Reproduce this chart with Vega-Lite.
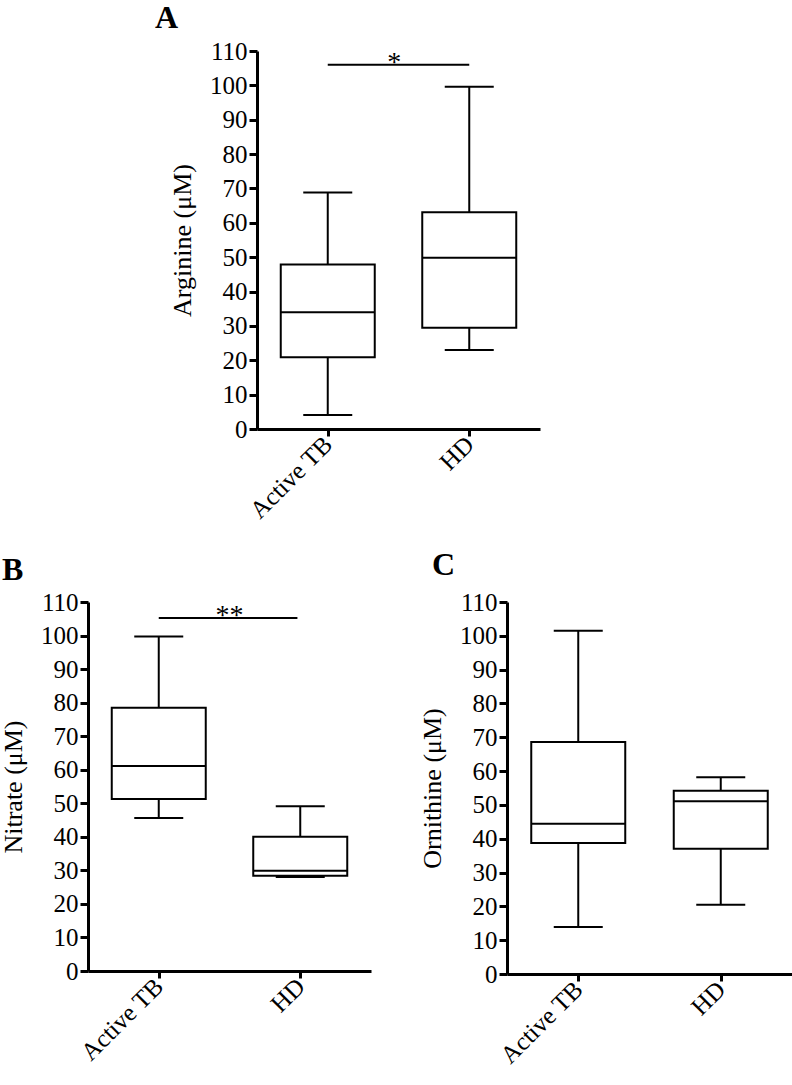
{
  "$schema": "https://vega.github.io/schema/vega-lite/v6.json",
  "padding": {"left": 0, "top": 2, "right": 0, "bottom": 0},
  "background": "white",
  "datasets": {
    "boxes": [
      {"panel": "A", "group": "Active TB", "min": 4.1, "q1": 20.9, "median": 34.0, "q3": 47.9, "max": 68.8},
      {"panel": "A", "group": "HD", "min": 23.0, "q1": 29.5, "median": 49.8, "q3": 63.1, "max": 99.6},
      {"panel": "B", "group": "Active TB", "min": 45.6, "q1": 51.3, "median": 61.1, "q3": 78.5, "max": 99.7},
      {"panel": "B", "group": "HD", "min": 28.0, "q1": 28.4, "median": 29.9, "q3": 40.0, "max": 49.1},
      {"panel": "C", "group": "Active TB", "min": 13.9, "q1": 38.7, "median": 44.4, "q3": 68.6, "max": 101.5},
      {"panel": "C", "group": "HD", "min": 20.5, "q1": 37.0, "median": 51.1, "q3": 54.2, "max": 58.2}
    ],
    "sig": [
      {"panel": "A", "from": 1, "to": 2, "mid": 1.47, "y": 106, "label": "*"},
      {"panel": "B", "from": 1, "to": 1.98, "mid": 1.5, "y": 105.2, "label": "**"}
    ]
  },
  "vconcat": [
    {
      "hconcat": [
        {
          "width": 67, "height": 10,
          "data": {"values": [{}]},
          "mark": {"type": "point", "opacity": 0},
          "encoding": {}
        },
        {
          "width": 283, "height": 378,
          "title": {"text": "A", "dx": -102, "offset": -21, "baseline": "alphabetic"},
          "layer": [
            {
              "data": {"name": "boxes"},
              "transform": [{"filter": "datum.panel === 'A'"}],
              "encoding": {
                "x": {"field": "group", "type": "nominal", "scale": {"type": "point", "padding": 0.5, "domain": ["Active TB", "HD"]}, "axis": {"title": null}},
                "y": {"field": "min", "type": "quantitative", "scale": {"domain": [0, 110], "nice": false, "zero": false}, "axis": {"title": "Arginine (μM)", "tickCount": 11, "labelOverlap": false}}
              },
              "layer": [
                {"mark": {"type": "rule", "color": "black", "strokeWidth": 2},
                 "encoding": {"y2": {"field": "max"}}},
                {"mark": {"type": "bar", "fill": "white", "stroke": "black", "strokeWidth": 2, "size": 94},
                 "encoding": {"y": {"field": "q1", "type": "quantitative"}, "y2": {"field": "q3"}}},
                {"mark": {"type": "tick", "color": "black", "opacity": 1, "thickness": 2, "size": 94},
                 "encoding": {"y": {"field": "median", "type": "quantitative"}}},
                {"mark": {"type": "tick", "color": "black", "opacity": 1, "thickness": 2, "size": 49},
                 "encoding": {"y": {"field": "min", "type": "quantitative"}}},
                {"mark": {"type": "tick", "color": "black", "opacity": 1, "thickness": 2, "size": 49},
                 "encoding": {"y": {"field": "max", "type": "quantitative"}}}
              ]
            },
            {
              "data": {"name": "sig"},
              "transform": [{"filter": "datum.panel === 'A'"}],
              "layer": [
                {"mark": {"type": "rule", "color": "black", "strokeWidth": 2},
                 "encoding": {
                   "x": {"field": "from", "type": "quantitative", "scale": {"domain": [0.5, 2.5], "nice": false, "zero": false}, "axis": null},
                   "x2": {"field": "to"},
                   "y": {"field": "y", "type": "quantitative"}
                 }},
                {"mark": {"type": "text", "color": "black", "fontSize": 28, "baseline": "alphabetic", "dy": 6},
                 "encoding": {
                   "x": {"field": "mid", "type": "quantitative"},
                   "y": {"field": "y", "type": "quantitative"},
                   "text": {"field": "label"}
                 }}
              ]
            }
          ],
          "resolve": {"scale": {"x": "independent"}, "axis": {"x": "independent"}}
        }
      ],
      "spacing": 0
    },
    {
      "hconcat": [
        {
          "width": 283, "height": 369,
          "title": {"text": "B", "dx": -86, "offset": -22, "baseline": "alphabetic"},
          "layer": [
            {
              "data": {"name": "boxes"},
              "transform": [{"filter": "datum.panel === 'B'"}],
              "encoding": {
                "x": {"field": "group", "type": "nominal", "scale": {"type": "point", "padding": 0.5, "domain": ["Active TB", "HD"]}, "axis": {"title": null}},
                "y": {"field": "min", "type": "quantitative", "scale": {"domain": [0, 110], "nice": false, "zero": false}, "axis": {"title": "Nitrate (μM)", "tickCount": 11, "labelOverlap": false}}
              },
              "layer": [
                {"mark": {"type": "rule", "color": "black", "strokeWidth": 2},
                 "encoding": {"y2": {"field": "max"}}},
                {"mark": {"type": "bar", "fill": "white", "stroke": "black", "strokeWidth": 2, "size": 94},
                 "encoding": {"y": {"field": "q1", "type": "quantitative"}, "y2": {"field": "q3"}}},
                {"mark": {"type": "tick", "color": "black", "opacity": 1, "thickness": 2, "size": 94},
                 "encoding": {"y": {"field": "median", "type": "quantitative"}}},
                {"mark": {"type": "tick", "color": "black", "opacity": 1, "thickness": 2, "size": 49},
                 "encoding": {"y": {"field": "min", "type": "quantitative"}}},
                {"mark": {"type": "tick", "color": "black", "opacity": 1, "thickness": 2, "size": 49},
                 "encoding": {"y": {"field": "max", "type": "quantitative"}}}
              ]
            },
            {
              "data": {"name": "sig"},
              "transform": [{"filter": "datum.panel === 'B'"}],
              "layer": [
                {"mark": {"type": "rule", "color": "black", "strokeWidth": 2},
                 "encoding": {
                   "x": {"field": "from", "type": "quantitative", "scale": {"domain": [0.5, 2.5], "nice": false, "zero": false}, "axis": null},
                   "x2": {"field": "to"},
                   "y": {"field": "y", "type": "quantitative"}
                 }},
                {"mark": {"type": "text", "color": "black", "fontSize": 28, "baseline": "alphabetic", "dy": 6},
                 "encoding": {
                   "x": {"field": "mid", "type": "quantitative"},
                   "y": {"field": "y", "type": "quantitative"},
                   "text": {"field": "label"}
                 }}
              ]
            }
          ],
          "resolve": {"scale": {"x": "independent"}, "axis": {"x": "independent"}}
        },
        {
          "width": 285, "height": 372,
          "title": {"text": "C", "dx": -75, "offset": -17, "baseline": "alphabetic"},
          "data": {"name": "boxes"},
          "transform": [{"filter": "datum.panel === 'C'"}],
          "encoding": {
            "x": {"field": "group", "type": "nominal", "scale": {"type": "point", "padding": 0.5, "domain": ["Active TB", "HD"]}, "axis": {"title": null}},
            "y": {"field": "min", "type": "quantitative", "scale": {"domain": [0, 110], "nice": false, "zero": false}, "axis": {"title": "Ornithine (μM)", "values": [0,10,20,30,40,50,60,70,80,90,100,110]}}
          },
          "layer": [
            {"mark": {"type": "rule", "color": "black", "strokeWidth": 2},
             "encoding": {"y2": {"field": "max"}}},
            {"mark": {"type": "bar", "fill": "white", "stroke": "black", "strokeWidth": 2, "size": 94},
             "encoding": {"y": {"field": "q1", "type": "quantitative"}, "y2": {"field": "q3"}}},
            {"mark": {"type": "tick", "color": "black", "opacity": 1, "thickness": 2, "size": 94},
             "encoding": {"y": {"field": "median", "type": "quantitative"}}},
            {"mark": {"type": "tick", "color": "black", "opacity": 1, "thickness": 2, "size": 49},
             "encoding": {"y": {"field": "min", "type": "quantitative"}}},
            {"mark": {"type": "tick", "color": "black", "opacity": 1, "thickness": 2, "size": 49},
             "encoding": {"y": {"field": "max", "type": "quantitative"}}}
          ]
        }
      ],
      "spacing": 48
    }
  ],
  "spacing": 25,
  "config": {
    "font": "Liberation Serif",
    "view": {"stroke": null},
    "axis": {
      "domainColor": "black", "domainWidth": 3, "tickColor": "black", "tickWidth": 3, "tickSize": 8,
      "labelColor": "black", "labelFontSize": 25, "labelFont": "Liberation Serif", "labelPadding": 2,
      "titleFont": "Liberation Serif", "titleFontSize": 26, "titleFontWeight": "normal", "titleColor": "black",
      "grid": false
    },
    "axisX": {"tickSize": 7, "labelAngle": -45, "labelBaseline": "middle", "labelPadding": 4},
    "axisY": {"labelFlush": false, "titlePadding": 14},
    "title": {"font": "Liberation Serif", "fontSize": 32, "fontWeight": "bold", "color": "black", "anchor": "start", "frame": "group"}
  }
}
